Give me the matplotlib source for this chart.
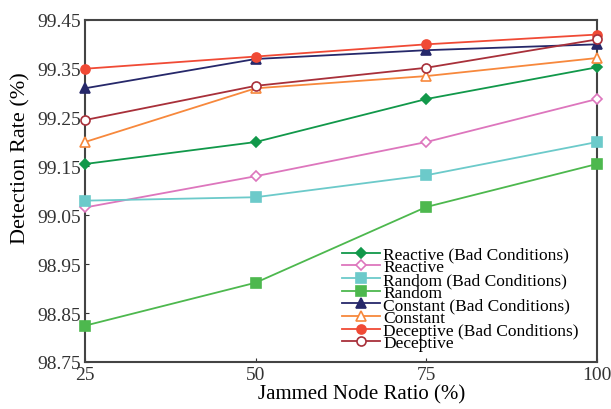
# detection rate vs jammed node ratio
import numpy as np
import matplotlib.pyplot as plt

plt.rcParams['font.family'] = ['Liberation Serif', 'DejaVu Serif']

ratios = [25, 50, 75, 100]
reactive_bad = [99.155, 99.200, 99.288, 99.353]
reactive = [99.066, 99.130, 99.200, 99.288]
random_bad = [99.080, 99.087, 99.132, 99.200]
random_ = [98.824, 98.912, 99.067, 99.155]
constant_bad = [99.310, 99.370, 99.388, 99.400]
constant = [99.200, 99.310, 99.335, 99.372]
deceptive_bad = [99.350, 99.375, 99.400, 99.420]
deceptive = [99.245, 99.315, 99.352, 99.410]

yticks = [98.75, 98.85, 98.95, 99.05, 99.15, 99.25, 99.35, 99.45]

series = [
    ('Reactive (Bad Conditions)', reactive_bad, '#11984a', 'D', True),
    ('Reactive', reactive, '#dd76bd', 'D', False),
    ('Random (Bad Conditions)', random_bad, '#6ccaca', 's', True),
    ('Random', random_, '#4db84e', 's', True),
    ('Constant (Bad Conditions)', constant_bad, '#26286a', '^', True),
    ('Constant', constant, '#f7883c', '^', False),
    ('Deceptive (Bad Conditions)', deceptive_bad, '#f04a35', 'o', True),
    ('Deceptive', deceptive, '#a8303a', 'o', False),
]

fig = plt.figure(figsize=(6.11, 4.10), dpi=100)
ax = fig.add_axes([0.139, 0.115, 0.838, 0.834])

for name, vals, col, mk, filled in series:
    ms = 6.5 if mk != 'D' else 5.5
    ax.plot(ratios, vals, color=col, lw=1.3, marker=mk, markersize=ms,
            markerfacecolor=col if filled else 'white', markeredgecolor=col,
            markeredgewidth=1.2, label=name, clip_on=False, zorder=3)

ax.set_xlim(25, 100)
ax.set_ylim(98.75, 99.45)
ax.set_xticks(ratios)
ax.set_yticks(yticks)
ax.set_yticklabels(['%.2f' % v for v in yticks])
ax.tick_params(direction='in', labelsize=14, length=3, colors='#333333', pad=3)
for s in ax.spines.values():
    s.set_color('#444444')
    s.set_linewidth(1.5)
ax.set_xlabel('Jammed Node Ratio (%)', fontsize=15, labelpad=2)
ax.xaxis.set_label_coords(0.54, -0.065)
ax.set_ylabel('Detection Rate (%)', fontsize=16, labelpad=4)
ax.yaxis.set_label_coords(-0.107, 0.6)

ax.legend(loc='lower right', frameon=False, fontsize=12.5, handlelength=2.2,
          labelspacing=-0.2, handletextpad=0.2, borderaxespad=0.2,
          bbox_to_anchor=(0.985, 0.0))

plt.savefig('out.png', dpi=100)
